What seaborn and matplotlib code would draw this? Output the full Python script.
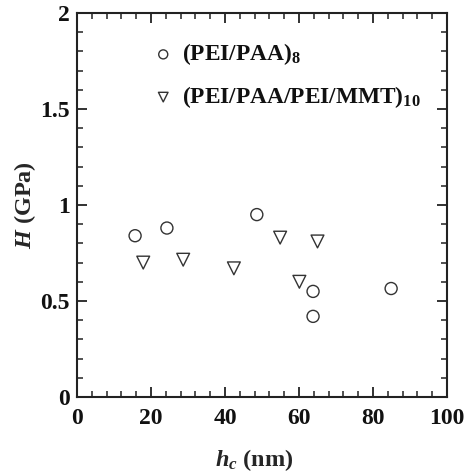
import pandas as pd
import seaborn as sns
import matplotlib.pyplot as plt
from matplotlib.ticker import MultipleLocator

# data
hc_paa = [15.7, 24.3, 48.6, 63.8, 63.8, 84.9]
H_paa = [0.84, 0.88, 0.95, 0.55, 0.42, 0.565]
hc_mmt = [17.9, 28.7, 42.4, 54.9, 60.1, 65.0]
H_mmt = [0.70, 0.715, 0.67, 0.83, 0.60, 0.81]
labels = [r"(PEI/PAA)$_\mathbf{8}$", r"(PEI/PAA/PEI/MMT)$_\mathbf{10}$"]

sns.set_style("ticks")
plt.rcParams["font.family"] = ["Liberation Serif", "DejaVu Serif"]
plt.rcParams["font.weight"] = "bold"
plt.rcParams["text.color"] = "#111111"
plt.rcParams["mathtext.fontset"] = "custom"
plt.rcParams["mathtext.rm"] = "Liberation Serif:bold"
plt.rcParams["mathtext.bf"] = "Liberation Serif:bold"
plt.rcParams["mathtext.it"] = "Liberation Serif:italic:bold"

df1 = pd.DataFrame({"hc": hc_paa, "H": H_paa})
df2 = pd.DataFrame({"hc": hc_mmt, "H": H_mmt})

fig, ax = plt.subplots(figsize=(4.65, 4.75), dpi=100)
fig.subplots_adjust(left=77/465, right=447/465, top=1-13/475, bottom=1-397/475)

sns.scatterplot(data=df1, x="hc", y="H", marker="o", s=75, facecolor="none",
                edgecolor="#333333", linewidth=1.0, label=labels[0], ax=ax)
sns.scatterplot(data=df2, x="hc", y="H", marker="v", s=85, facecolor="none",
                edgecolor="#333333", linewidth=1.0, label=labels[1], ax=ax)

ax.set_xlim(0, 100)
ax.set_ylim(0, 2)
ax.xaxis.set_major_locator(MultipleLocator(20))
ax.xaxis.set_minor_locator(MultipleLocator(4))
ax.yaxis.set_major_locator(MultipleLocator(0.5))
ax.yaxis.set_minor_locator(MultipleLocator(0.1))
ax.set_yticks([0, 0.5, 1, 1.5, 2], ["0", "0.5", "1", "1.5", "2"])
ax.tick_params(which="both", direction="in", top=True, right=True, color="#222222",
               labelcolor="#111111")
ax.tick_params(which="major", length=7, width=1.3, labelsize=17)
ax.tick_params(axis="x", which="major", pad=8)
ax.tick_params(axis="y", which="major", pad=5)
ax.tick_params(which="minor", length=4, width=1.1)
for s in ax.spines.values():
    s.set_linewidth(1.5)
    s.set_color("#222222")

ax.set_xlabel(r"$h_c$ (nm)", fontsize=17.5, fontweight="bold", labelpad=13)
ax.xaxis.label.set_x(0.48)
ax.set_ylabel(r"$H$ (GPa)", fontsize=17.5, fontweight="bold", labelpad=2)

ax.legend(loc="upper left", bbox_to_anchor=(0.17, 0.95), frameon=False,
          fontsize=16.8, handletextpad=0.2, labelspacing=0.72, borderaxespad=0,
          markerscale=0.75, handlelength=1.2)

plt.savefig("out.png", dpi=100)
